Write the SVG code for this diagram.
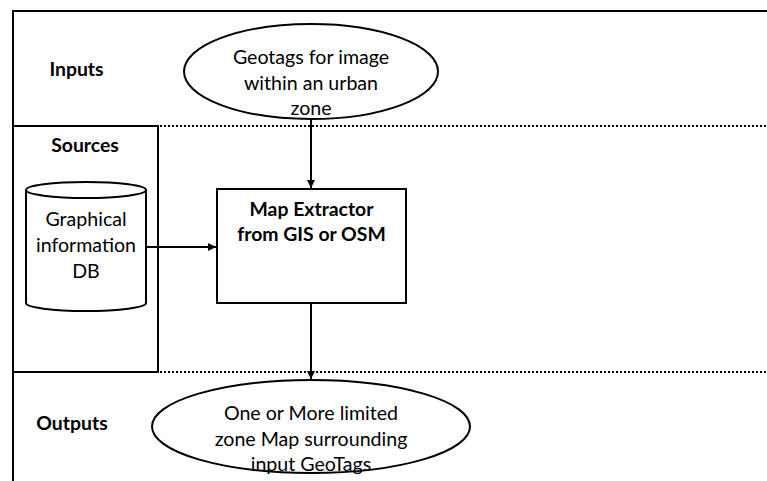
<svg xmlns="http://www.w3.org/2000/svg" width="767" height="481" viewBox="0 0 767 481">
<style>
.t{font-family:Lato,"Liberation Sans",sans-serif;font-size:19.6px;fill:#000;text-anchor:middle}
.b{font-weight:bold;font-size:19.4px}
.s{fill:#fff;stroke:#000;stroke-width:2}
.ln{stroke:#000;stroke-width:2;fill:none}
.dot{stroke:#000;stroke-width:2;stroke-dasharray:2 2;fill:none}
</style>
<defs>
<marker id="ah" viewBox="0 0 10 10" refX="10" refY="5" markerWidth="4" markerHeight="4" orient="auto"><path d="M0,0 L10,5 L0,10 z" fill="#000"/></marker>
</defs>
<rect width="767" height="481" fill="#fff"/>
<g id="frame">
<path class="ln" d="M767,11 H13 V481"/>
<path class="ln" d="M13,126 H158 V372 H13"/>
<path class="dot" d="M160,126 H767"/>
<path class="dot" d="M160,372 H767"/>
<text class="t b" x="76.5" y="76">Inputs</text>
<text class="t b" x="85" y="152">Sources</text>
<text class="t b" x="72" y="430">Outputs</text>
</g>
<g id="input">
<ellipse class="s" cx="311" cy="71.5" rx="127" ry="47.5"/>
<text class="t" x="311" y="64">Geotags for image</text>
<text class="t" x="311" y="90">within an urban</text>
<text class="t" x="311" y="115">zone</text>
</g>
<g id="db">
<path class="s" d="M26,190 V303 A60,8 0 0 0 146,303 V190"/>
<ellipse class="s" cx="86" cy="190" rx="60" ry="8"/>
<text class="t" x="86" y="226">Graphical</text>
<text class="t" x="86" y="252">information</text>
<text class="t" x="86" y="278">DB</text>
</g>
<g id="extractor">
<rect class="s" x="217" y="189" width="189" height="114"/>
<text class="t b" x="311.5" y="216">Map Extractor</text>
<text class="t b" x="311.5" y="241">from GIS or OSM</text>
</g>
<g id="output">
<ellipse class="s" cx="311" cy="426.5" rx="159" ry="46.5"/>
<text class="t" x="311" y="420">One or More limited</text>
<text class="t" x="311" y="446">zone Map surrounding</text>
<text class="t" x="311" y="471">input GeoTags</text>
</g>
<g id="connectors">
<path class="ln" d="M311,119 V188" marker-end="url(#ah)"/>
<path class="ln" d="M147,247 H216" marker-end="url(#ah)"/>
<path class="ln" d="M311,303 V379" marker-end="url(#ah)"/>
</g>
</svg>
